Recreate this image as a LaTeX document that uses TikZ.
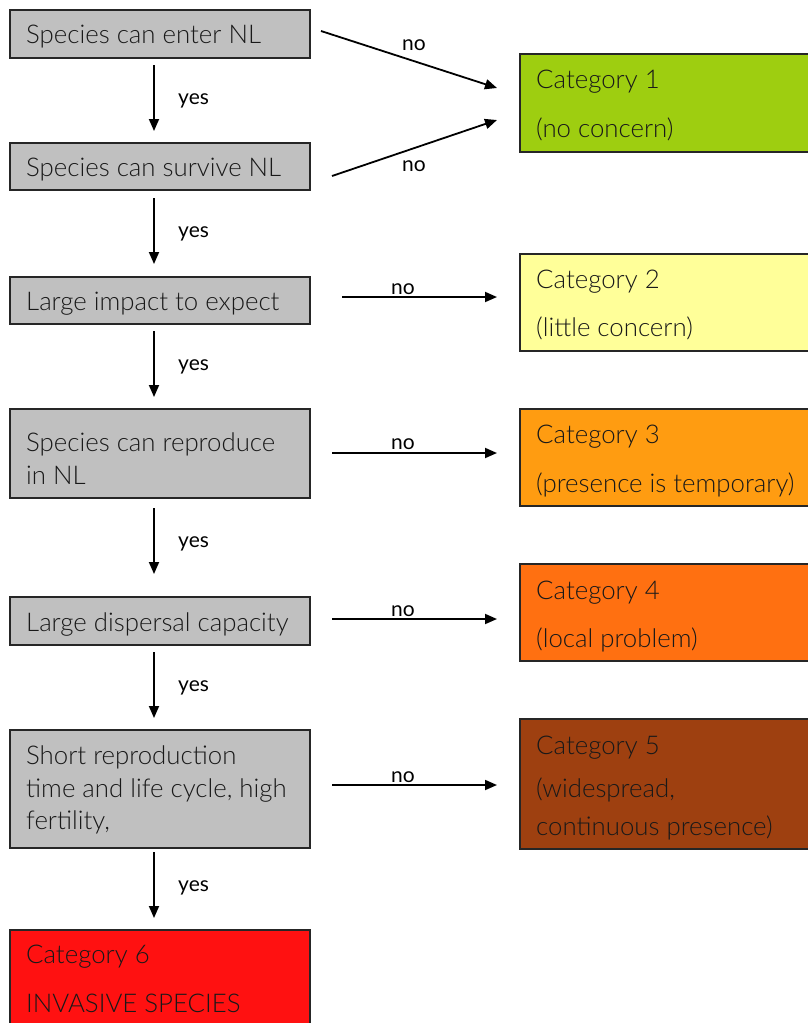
\documentclass[tikz,border=0pt]{standalone}
\usepackage{fontspec}
\setmainfont{Lato}[UprightFont=* Light]
\newfontfamily\lblfont{Lato}
\usetikzlibrary{arrows.meta}
\definecolor{grayfill}{RGB}{192,192,192}
\definecolor{cat1}{RGB}{158,206,16}
\definecolor{cat2}{RGB}{255,255,153}
\definecolor{cat3}{RGB}{255,156,17}
\definecolor{cat4}{RGB}{255,112,17}
\definecolor{cat5}{RGB}{158,64,16}
\definecolor{cat6}{RGB}{255,17,17}
\definecolor{txt}{RGB}{25,25,25}
\tikzset{
  box/.style={draw=black!85, line width=1.5pt, inner sep=0pt, outer sep=0pt},
  txtline/.style={anchor=base west, inner sep=0pt, font=\fontsize{25.8}{25.8}\selectfont, text=txt},
  lbl/.style={inner sep=0pt, font=\lblfont\fontsize{21}{21}\selectfont, text=black},
  arr/.style={line width=1.8pt, -{Triangle[length=12pt,width=10pt]}},
}
\begin{document}
\begin{tikzpicture}[x=1pt,y=-1pt]
\useasboundingbox (0,0) rectangle (808,1023);
% left boxes
\path[box,fill=grayfill] (10,10) rectangle (310,58);
\path[box,fill=grayfill] (10,143) rectangle (310,190);
\path[box,fill=grayfill] (10,277) rectangle (310,324);
\path[box,fill=grayfill] (10,409) rectangle (310,498);
\path[box,fill=grayfill] (10,597) rectangle (310,645);
\path[box,fill=grayfill] (10,730) rectangle (310,848);
\path[box,fill=cat6] (10,930) rectangle (310,1030);
% right boxes
\path[box,fill=cat1] (520,54) rectangle (815,152);
\path[box,fill=cat2] (520,254) rectangle (815,351);
\path[box,fill=cat3] (520,409) rectangle (815,506);
\path[box,fill=cat4] (520,564) rectangle (815,661);
\path[box,fill=cat5] (520,719) rectangle (815,849);
% texts left
\node[txtline] (q1) at (26,43) {Species can enter NL};
\node[txtline] (q2) at (26,176) {Species can survive NL};
\node[txtline] (q3) at (26,310) {Large impact to expect};
\node[txtline] (q4a) at (26,451) {Species can reproduce};
\node[txtline] (q4b) at (26,484) {in NL};
\node[txtline] (q5) at (26,631) {Large dispersal capacity};
\node[txtline] (q6a) at (26,764) {Short reproduction};
\node[txtline] (q6b) at (26,797) {time and life cycle, high};
\node[txtline] (q6c) at (26,829) {fertility,};
\node[txtline] (c6a) at (26,963) {Category 6};
\node[txtline] (c6b) at (26,1012) {INVASIVE SPECIES};
% texts right
\node[txtline] (c1a) at (536,88) {Category 1};
\node[txtline] (c1b) at (536,137) {(no concern)};
\node[txtline] (c2a) at (536,288) {Category 2};
\node[txtline] (c2b) at (536,336) {(little concern)};
\node[txtline] (c3a) at (536,443) {Category 3};
\node[txtline] (c3b) at (536,492) {(presence is temporary)};
\node[txtline] (c4a) at (536,599) {Category 4};
\node[txtline] (c4b) at (536,647) {(local problem)};
\node[txtline] (c5a) at (536,754) {Category 5};
\node[txtline] (c5b) at (536,797) {(widespread,};
\node[txtline] (c5c) at (536,835) {continuous presence)};
% arrow endpoints
\coordinate (y1s) at (154,65); \coordinate (y1e) at (154,131);
\coordinate (y2s) at (154,198); \coordinate (y2e) at (154,264);
\coordinate (y3s) at (154,331); \coordinate (y3e) at (154,397);
\coordinate (y4s) at (154,508); \coordinate (y4e) at (154,574);
\coordinate (y5s) at (154,652); \coordinate (y5e) at (154,718);
\coordinate (y6s) at (154,852); \coordinate (y6e) at (154,918);
\foreach \i/\m in {1/101,2/234,3/367,4/544,5/688,6/888}{
  \draw[arr] (y\i s) -- (y\i e);
  \node[lbl, anchor=west] (yes\i) at (178,\m) {yes};
}
\coordinate (n1s) at (321,31); \coordinate (n1e) at (497,88);
\coordinate (n2s) at (332,176); \coordinate (n2e) at (497,120);
\draw[arr] (n1s) -- (n1e);
\draw[arr] (n2s) -- (n2e);
\node[lbl] (no1) at (414,45) {no};
\node[lbl] (no2) at (414,166) {no};
\coordinate (n3s) at (342,297); \coordinate (n3e) at (497,297);
\coordinate (n4s) at (332,453); \coordinate (n4e) at (497,453);
\coordinate (n5s) at (332,619); \coordinate (n5e) at (497,619);
\coordinate (n6s) at (332,785); \coordinate (n6e) at (497,785);
\draw[arr] (n3s) -- (n3e); \node[lbl] (no3) at (403,289) {no};
\draw[arr] (n4s) -- (n4e); \node[lbl] (no4) at (403,444) {no};
\draw[arr] (n5s) -- (n5e); \node[lbl] (no5) at (403,611) {no};
\draw[arr] (n6s) -- (n6e); \node[lbl] (no6) at (403,777) {no};
\end{tikzpicture}
\end{document}
